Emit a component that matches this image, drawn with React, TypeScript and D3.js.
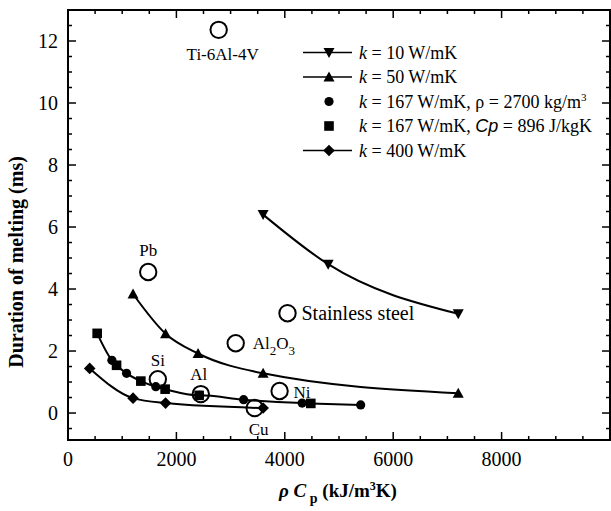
import React from "react";
import * as d3 from "d3";

const W = 611;
const H = 511;

// k = 10 W/mK (down triangles)
const k10X = [3600, 4800, 7200];
const k10Y = [6.4, 4.8, 3.2];
// k = 50 W/mK (up triangles)
const k50X = [1200, 1800, 2400, 3600, 7200];
const k50Y = [3.84, 2.56, 1.92, 1.28, 0.64];
// k = 167, rho = 2700 (filled circles)
const k167rX = [810, 1080, 1620, 2430, 3240, 4320, 5400];
const k167rY = [1.7, 1.28, 0.85, 0.57, 0.43, 0.32, 0.26];
// k = 167, Cp = 896 (filled squares)
const k167cX = [538, 896, 1344, 1792, 2419, 4480];
const k167cY = [2.57, 1.54, 1.03, 0.77, 0.57, 0.31];
// k = 400 W/mK (diamonds)
const k400X = [400, 1200, 1800, 3600];
const k400Y = [1.44, 0.48, 0.32, 0.16];

// materials (open circles)
const matNames = ["Ti-6Al-4V", "Pb", "Stainless steel", "Al2O3", "Si", "Al", "Ni", "Cu"];
const matX = [2780, 1480, 4050, 3094, 1657, 2450, 3904, 3444];
const matY = [12.36, 4.55, 3.22, 2.25, 1.09, 0.61, 0.71, 0.16];

const xTicks = [0, 2000, 4000, 6000, 8000];
const yTicks = [0, 2, 4, 6, 8, 10, 12];

const FONT = "'Liberation Serif', 'Times New Roman', serif";

const x = d3.scaleLinear().domain([0, 10000]).range([68, 610]);
const y = d3.scaleLinear().domain([-0.87, 13]).range([440, 10]);

type Shape = "down" | "up" | "circle" | "square" | "diamond";

function Marker({ shape, cx, cy }: { shape: Shape; cx: number; cy: number }) {
  if (shape === "circle") return <circle cx={cx} cy={cy} r={4.6} fill="#000" />;
  if (shape === "square") return <rect x={cx - 4.8} y={cy - 4.8} width={9.6} height={9.6} fill="#000" />;
  if (shape === "diamond")
    return <path d={`M${cx},${cy - 5.8}L${cx + 5.8},${cy}L${cx},${cy + 5.8}L${cx - 5.8},${cy}Z`} fill="#000" />;
  if (shape === "up")
    return <path d={`M${cx},${cy - 5.5}L${cx + 5.5},${cy + 4.5}L${cx - 5.5},${cy + 4.5}Z`} fill="#000" />;
  return <path d={`M${cx},${cy + 5.5}L${cx + 5.5},${cy - 4.5}L${cx - 5.5},${cy - 4.5}Z`} fill="#000" />;
}

const line = d3
  .line<[number, number]>()
  .x((d) => x(d[0]))
  .y((d) => y(d[1]))
  .curve(d3.curveMonotoneX);

function zip(xs: number[], ys: number[]): [number, number][] {
  return xs.map((v, i) => [v, ys[i]] as [number, number]);
}

export default function App() {
  const combined167 = [...zip(k167rX, k167rY), ...zip(k167cX, k167cY)].sort((a, b) => a[0] - b[0]);
  const series: { xs: number[]; ys: number[]; shape: Shape; lined: boolean }[] = [
    { xs: k10X, ys: k10Y, shape: "down", lined: true },
    { xs: k50X, ys: k50Y, shape: "up", lined: true },
    { xs: k167rX, ys: k167rY, shape: "circle", lined: false },
    { xs: k167cX, ys: k167cY, shape: "square", lined: false },
    { xs: k400X, ys: k400Y, shape: "diamond", lined: true },
  ];

  const xMinor = d3.range(0, 10001, 500);
  const yMinor = d3.range(-0.5, 13, 0.5);
  const [x0, x1] = x.range();
  const [y0, y1] = y.range();

  const legendRows = [
    { shape: "down" as Shape, lined: true },
    { shape: "up" as Shape, lined: true },
    { shape: "circle" as Shape, lined: false },
    { shape: "square" as Shape, lined: false },
    { shape: "diamond" as Shape, lined: true },
  ];
  const legendY = [52.5, 77, 101.5, 126, 150.5];

  const labelPos: Record<string, { dx: number; dy: number; anchor: string; size: number }> = {
    "Ti-6Al-4V": { dx: 4, dy: 30, anchor: "middle", size: 17 },
    Pb: { dx: 0, dy: -16, anchor: "middle", size: 17 },
    "Stainless steel": { dx: 14, dy: 7, anchor: "start", size: 20 },
    Al2O3: { dx: 17, dy: 6, anchor: "start", size: 17 },
    Si: { dx: 0, dy: -13, anchor: "middle", size: 17 },
    Al: { dx: -2, dy: -14, anchor: "middle", size: 17 },
    Ni: { dx: 14, dy: 7, anchor: "start", size: 17 },
    Cu: { dx: 4, dy: 27, anchor: "middle", size: 17 },
  };

  return (
    <svg width={W} height={H} style={{ position: "absolute", left: 0, top: 0, background: "#fff" }} fontFamily={FONT}>
      <rect x={0} y={0} width={W} height={H} fill="#fff" />
      {/* frame */}
      <rect x={x0} y={y1} width={x1 - x0} height={y0 - y1} fill="none" stroke="#000" strokeWidth={2} />
      {/* x ticks */}
      {xMinor.map((v) => {
        const major = v % 2000 === 0;
        const len = major ? 8 : 4;
        return (
          <g key={"xt" + v}>
            <line x1={x(v)} x2={x(v)} y1={y0} y2={y0 - len} stroke="#000" strokeWidth={1.5} />
            <line x1={x(v)} x2={x(v)} y1={y1} y2={y1 + len} stroke="#000" strokeWidth={1.5} />
          </g>
        );
      })}
      {yMinor.map((v) => {
        const major = Math.abs(v % 2) < 1e-9;
        const len = major ? 8 : 4;
        return (
          <g key={"yt" + v}>
            <line x1={x0} x2={x0 + len} y1={y(v)} y2={y(v)} stroke="#000" strokeWidth={1.5} />
            <line x1={x1} x2={x1 - len} y1={y(v)} y2={y(v)} stroke="#000" strokeWidth={1.5} />
          </g>
        );
      })}
      {xTicks.map((v) => (
        <text key={"xl" + v} x={x(v)} y={466} fontSize={20} textAnchor="middle">
          {v}
        </text>
      ))}
      {yTicks.map((v) => (
        <text key={"yl" + v} x={58} y={y(v) + 7} fontSize={20} textAnchor="end">
          {v}
        </text>
      ))}
      {/* axis titles */}
      <text
        transform={`translate(23,262) rotate(-90)`}
        textAnchor="middle"
        fontSize={20}
        fontWeight="bold"
      >
        Duration of melting (ms)
      </text>
      <text x={338} y={497} textAnchor="middle" fontSize={19} fontWeight="bold">
        <tspan fontStyle="italic">ρ C</tspan>
        <tspan dy={6} fontSize={14}> p</tspan>
        <tspan dy={-6}> (kJ/m</tspan>
        <tspan dy={-7} fontSize={12}>3</tspan>
        <tspan dy={7}>K)</tspan>
      </text>
      {/* curves */}
      {series
        .filter((s) => s.lined)
        .map((s, i) => (
          <path key={"c" + i} d={line(zip(s.xs, s.ys)) || ""} fill="none" stroke="#000" strokeWidth={2} />
        ))}
      <path d={line(combined167) || ""} fill="none" stroke="#000" strokeWidth={2} />
      {/* materials */}
      {matNames.map((n, i) => {
        const cx = x(matX[i]);
        const cy = y(matY[i]);
        const p = labelPos[n];
        return (
          <g key={"m" + n}>
            <circle cx={cx} cy={cy} r={8.2} fill="none" stroke="#000" strokeWidth={2} />
            {n === "Al2O3" ? (
              <text x={cx + p.dx} y={cy + p.dy} fontSize={p.size} textAnchor={p.anchor as any}>
                Al
                <tspan dy={6} fontSize={13}>2</tspan>
                <tspan dy={-6}>O</tspan>
                <tspan dy={6} fontSize={13}>3</tspan>
              </text>
            ) : (
              <text x={cx + p.dx} y={cy + p.dy} fontSize={p.size} textAnchor={p.anchor as any}>
                {n}
              </text>
            )}
          </g>
        );
      })}
      {/* markers */}
      {series.map((s, i) =>
        s.xs.map((v, j) => <Marker key={`p${i}-${j}`} shape={s.shape} cx={x(v)} cy={y(s.ys[j])} />)
      )}
      {/* legend */}
      {legendRows.map((r, i) => (
        <g key={"lg" + i}>
          {r.lined && <line x1={303} x2={352} y1={legendY[i]} y2={legendY[i]} stroke="#000" strokeWidth={1.6} />}
          <Marker shape={r.shape} cx={329} cy={legendY[i]} />
        </g>
      ))}
      <g fontSize={18}>
        <text x={359} y={legendY[0] + 6}>
          <tspan fontStyle="italic">k</tspan> = 10 W/mK
        </text>
        <text x={359} y={legendY[1] + 6}>
          <tspan fontStyle="italic">k</tspan> = 50 W/mK
        </text>
        <text x={359} y={legendY[2] + 6}>
          <tspan fontStyle="italic">k</tspan> = 167 W/mK, ρ = 2700 kg/m
          <tspan dy={-7} fontSize={11}>3</tspan>
        </text>
        <text x={359} y={legendY[3] + 6}>
          <tspan fontStyle="italic">k</tspan> = 167 W/mK, <tspan fontStyle="italic" fontFamily="'Liberation Sans', Arial, sans-serif">Cp</tspan> = 896 J/kgK
        </text>
        <text x={359} y={legendY[4] + 6}>
          <tspan fontStyle="italic">k</tspan> = 400 W/mK
        </text>
      </g>
    </svg>
  );
}
